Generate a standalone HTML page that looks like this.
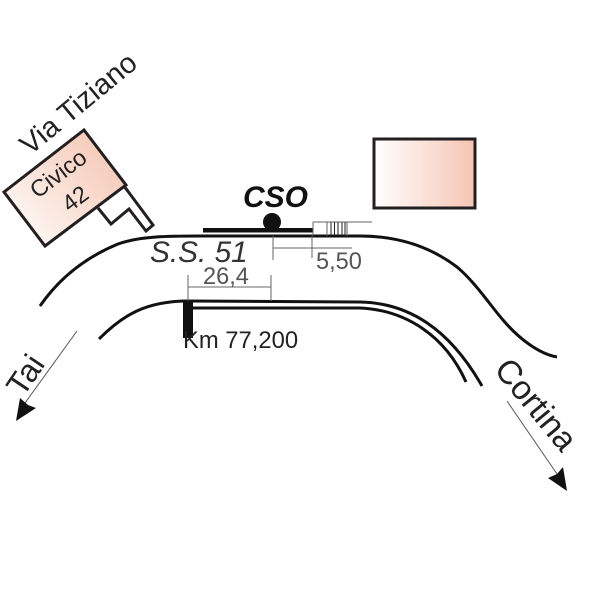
<!DOCTYPE html>
<html>
<head>
<meta charset="utf-8">
<style>
html,body{margin:0;padding:0;background:#fff;}
svg{display:block;}
text{font-family:"Liberation Sans",sans-serif;}
</style>
</head>
<body>
<svg width="600" height="600" viewBox="0 0 600 600" xmlns="http://www.w3.org/2000/svg">
<defs>
<linearGradient id="g1" x1="0" y1="0" x2="1" y2="0">
<stop offset="0" stop-color="#fff"/>
<stop offset="1" stop-color="#f6c5b3"/>
</linearGradient>
<linearGradient id="g2" gradientUnits="userSpaceOnUse" x1="30" y1="225" x2="115" y2="150">
<stop offset="0" stop-color="#fdf3ee"/>
<stop offset="1" stop-color="#f5c8b6"/>
</linearGradient>
</defs>
<rect width="600" height="600" fill="#fff"/>

<!-- buildings -->
<polygon points="84,130 126,185 45,246 4,192" fill="url(#g2)" stroke="#231f20" stroke-width="3"/>
<polyline points="98,208 111,224 129,209 146,231 153,225 124,186" fill="none" stroke="#231f20" stroke-width="3"/>
<rect x="374" y="139" width="101" height="69" fill="url(#g1)" stroke="#231f20" stroke-width="3"/>

<!-- upper road -->
<path d="M40,306 C58,280 84,258 118,244 C140,236 170,236 200,236 L360,236 C395,236 428,245 457,267 C475,282 490,305 503,320 C520,340 540,354 557,357" fill="none" stroke="#111" stroke-width="3"/>
<!-- lower road -->
<path d="M99,339 C122,316 145,301 188,301 L360,302 C410,303 450,330 482,386" fill="none" stroke="#111" stroke-width="3"/>
<path d="M188,308 L360,308 C405,310 445,335 466,382" fill="none" stroke="#111" stroke-width="3"/>
<rect x="183" y="300" width="10" height="38" fill="#111"/>

<!-- CSO stop -->
<rect x="203" y="228" width="110" height="4.5" fill="#111"/>
<circle cx="272" cy="222" r="9" fill="#111"/>

<!-- hatch / dimension lines -->
<g fill="none" stroke="#666" stroke-width="1">
<path d="M313,222 H372 M313,222 V236 M327,222 V236 M347,222 V236"/>
<path d="M273,236 V260 M273,248 H352 M312,236 V258"/>
<path d="M188,275 V301 M188,287 H271 M271,275 V301"/>
</g>
<g fill="none" stroke="#222" stroke-width="1">
<path d="M331,222 V236 M334.500,222 V236 M338,222 V236 M342,222 V236 M345,222 V236"/>
</g>

<!-- arrows -->
<path d="M77,331 L25,403" fill="none" stroke="#555" stroke-width="1"/>
<polygon points="16,421 20,398 28,405 36,408" fill="#111"/>
<path d="M507,401 L557,474" fill="none" stroke="#555" stroke-width="1"/>
<polygon points="567,491 548,478 557,474 563,467" fill="#111"/>

<!-- labels -->
<text x="0" y="0" font-size="29" fill="#222" transform="translate(30,156) rotate(-39.500)">Via Tiziano</text>
<text x="0" y="0" font-size="23.500" fill="#222" text-anchor="middle" transform="translate(63,180) rotate(-37)">Civico</text>
<text x="0" y="0" font-size="23.500" fill="#222" text-anchor="middle" transform="translate(80,205) rotate(-37)">42</text>
<text x="243" y="207" font-size="30" font-weight="bold" font-style="italic" fill="#111">CSO</text>
<text x="150" y="262" font-size="29.800" font-style="italic" fill="#333">S.S. 51</text>
<text x="203" y="284" font-size="23.600" fill="#555">26,4</text>
<text x="316" y="269" font-size="23.600" fill="#555">5,50</text>
<text x="183" y="348" font-size="23.800" fill="#222">Km 77,200</text>
<text x="0" y="0" font-size="32" fill="#222" transform="translate(23,398) rotate(-56)">Tai</text>
<text x="0" y="0" font-size="33.500" fill="#222" transform="translate(493,370) rotate(50.500)">Cortina</text>
</svg>
</body>
</html>
